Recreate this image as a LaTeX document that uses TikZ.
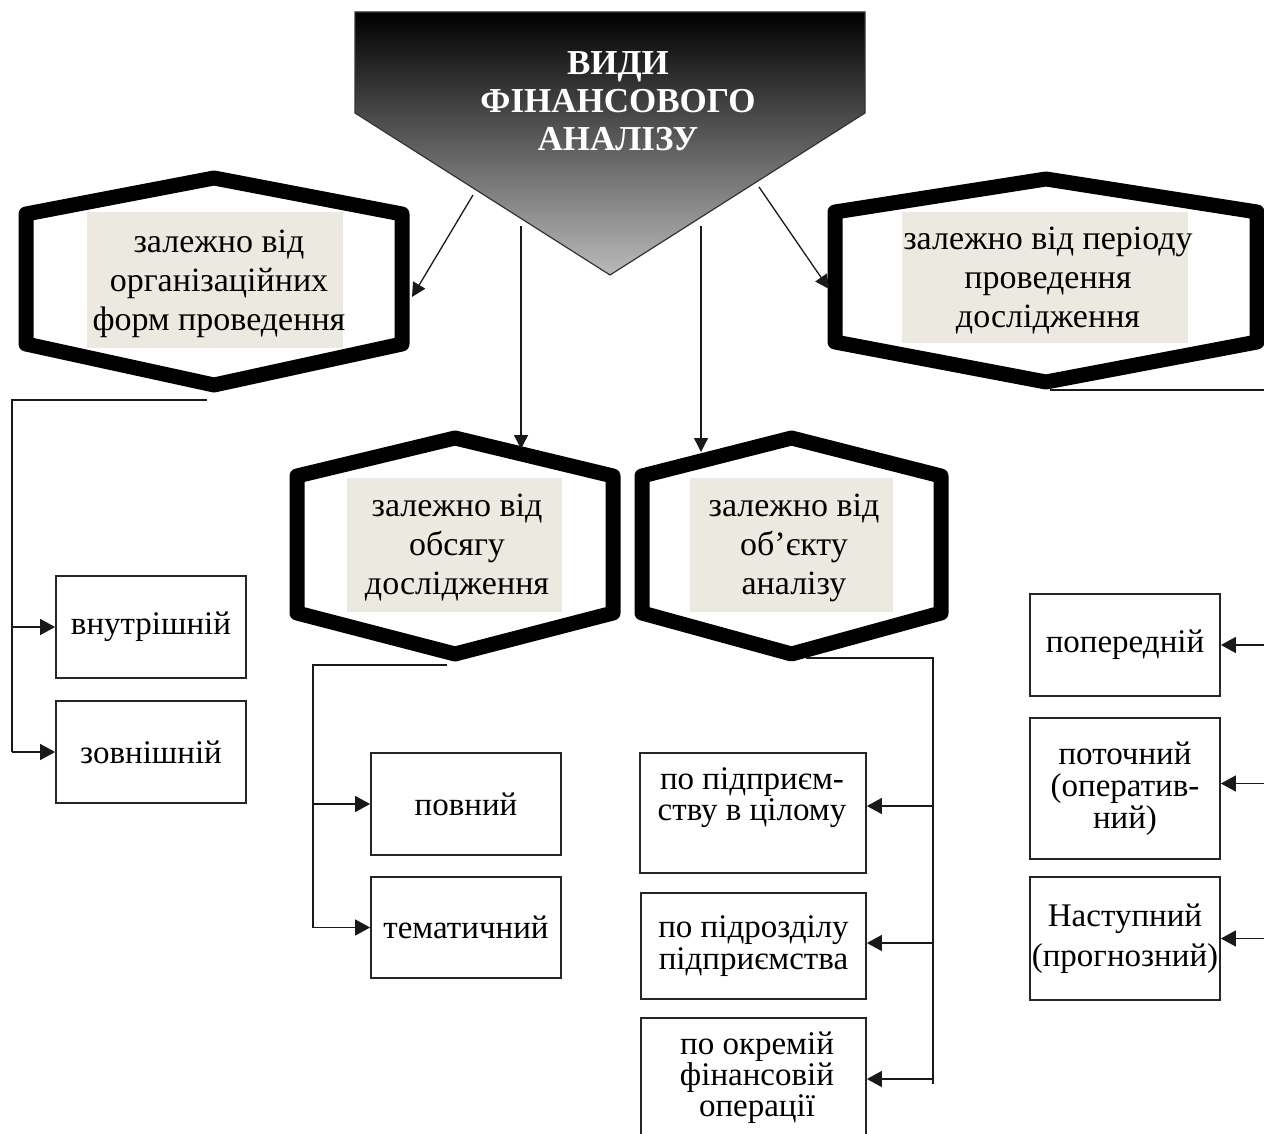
\documentclass[tikz,border=0pt]{standalone}
\usepackage{fontspec}
\setmainfont{Liberation Serif}
\usetikzlibrary{arrows.meta}
\definecolor{beige}{RGB}{236,234,224}
\begin{document}
\begin{tikzpicture}[x=1pt,y=-1pt,
  hexline/.style={line width=15pt, line join=round, draw=black},
  beigebox/.style={fill=beige, draw=none, inner sep=0pt, align=center, font=\fontsize{34}{39}\selectfont},
  hextext/.style={inner sep=0pt, align=center, font=\fontsize{34}{39}\selectfont},
  leafbox/.style={draw=black!85, line width=1.8pt, inner sep=0pt, align=center, font=\fontsize{33}{32}\selectfont},
  leaftext/.style={inner sep=0pt, align=center, font=\fontsize{33}{31}\selectfont},
  conn/.style={line width=1.6pt, draw=black!90},
  arr/.style={conn, -{Triangle[length=15pt,width=16pt]}},
  tarr/.style={line width=1.3pt, draw=black!90, -{Triangle[length=14pt,width=14pt]}},
]
\useasboundingbox (0,0) rectangle (1264,1134);

% ---- title pentagon
\shadedraw[top color=black, bottom color=black!27, draw=black!80, line width=1.2pt]
  (355,12) -- (865,12) -- (865,113) -- (610,275) -- (355,113) -- cycle;
\node[font=\bfseries\fontsize{35}{38}\selectfont, text=white, align=center, inner sep=0pt] (title) at (618,101) {ВИДИ\\ФІНАНСОВОГО\\АНАЛІЗУ};

% ---- hexagon category nodes
\node[beigebox, minimum width=256pt, minimum height=136pt] (h1) at (215,280) {};
\node[hextext] (h1t) at (219,284) {залежно від\\організаційних\\форм проведення};
\draw[hexline] (214,178) -- (402,214) -- (402,344) -- (214,385) -- (26,344) -- (26,214) -- cycle;

\node[beigebox, minimum width=286pt, minimum height=131pt] (h4) at (1045,277.5) {};
\node[hextext] (h4t) at (1048,281) {залежно від періоду\\проведення\\дослідження};
\draw[hexline] (1046,179) -- (1257,212) -- (1257,342) -- (1046,382) -- (835,342) -- (835,212) -- cycle;

\node[beigebox, minimum width=215pt, minimum height=134pt] (h2) at (454.5,545) {};
\node[hextext] (h2t) at (457,548) {залежно від\\обсягу\\дослідження};
\draw[hexline] (455,438) -- (613,476) -- (613,613) -- (455,654) -- (297,613) -- (297,476) -- cycle;

\node[beigebox, minimum width=203pt, minimum height=134pt] (h3) at (791.5,545) {};
\node[hextext] (h3t) at (794,548) {залежно від\\об’єкту\\аналізу};
\draw[hexline] (791.5,438) -- (941,476) -- (941,613) -- (791.5,654) -- (642,613) -- (642,476) -- cycle;

% ---- arrows from title
\coordinate (a1s) at (473,195);  \coordinate (a1e) at (412,297);
\coordinate (a2s) at (521,226);  \coordinate (a2e) at (521,449);
\coordinate (a3s) at (701,226);  \coordinate (a3e) at (701,452);
\coordinate (a4s) at (759,187);  \coordinate (a4e) at (829,289);
\draw[tarr] (a1s) -- (a1e);
\draw[tarr] (a2s) -- (a2e);
\draw[tarr] (a3s) -- (a3e);
\draw[tarr] (a4s) -- (a4e);

% ---- leaf boxes
\node[leafbox, minimum width=190pt, minimum height=102pt] (b1) at (151,627) {внутрішній};
\node[leafbox, minimum width=190pt, minimum height=102pt] (b2) at (151,752) {зовнішній};
\node[leafbox, minimum width=190pt, minimum height=102pt] (b3) at (466,804) {повний};
\node[leafbox, minimum width=190pt, minimum height=101pt] (b4) at (466,927.5) {тематичний};
\node[leafbox, minimum width=226pt, minimum height=120pt] (b5) at (753,813) {};
\node[leaftext] (b5t) at (752,798) {по підприєм-\\ству в цілому};
\node[leafbox, minimum width=225pt, minimum height=106pt] (b6) at (753.5,946) {по підрозділу\\підприємства};
\node[leafbox, minimum width=225pt, minimum height=122pt] (b7) at (753.5,1079) {};
\node[leaftext] (b7t) at (757,1078) {по окремій\\фінансовій\\операції};
\node[leafbox, minimum width=190pt, minimum height=102pt] (b8) at (1125,645) {попередній};
\node[leafbox, minimum width=190pt, minimum height=141pt] (b9) at (1125,788.5) {поточний\\(оператив-\\ний)};
\node[leafbox, minimum width=190pt, minimum height=123pt] (b10) at (1125,938.5) {Наступний\\[8pt](прогнозний)};

% ---- arrow ends on boxes
\coordinate (b5e) at ([yshift=7pt]b5.east);
\coordinate (b6e) at ([yshift=3pt]b6.east);
\coordinate (b9e) at ([yshift=5pt]b9.east);

% ---- trunks
\coordinate (h1b) at (207,400); \coordinate (t1) at (12,400);
\draw[conn] (h1b) -- (t1) -- (t1 |- b2.west);
\draw[arr] (t1 |- b1.west) -- (b1.west);
\draw[arr] (t1 |- b2.west) -- (b2.west);

\coordinate (h2b) at (447,665); \coordinate (t2) at (313,665);
\draw[conn] (h2b) -- (t2) -- (t2 |- b4.west);
\draw[arr] (t2 |- b3.west) -- (b3.west);
\draw[arr] (t2 |- b4.west) -- (b4.west);

\coordinate (h3b) at (806,658); \coordinate (t3) at (933,658);
\draw[conn] (h3b) -- (t3) -- (933,1084);
\draw[arr] (t3 |- b5e) -- (b5e);
\draw[arr] (t3 |- b6e) -- (b6e);
\draw[arr] (t3 |- b7.east) -- (b7.east);

\coordinate (h4b) at (1050,390); \coordinate (t4) at (1266,390);
\draw[conn] (h4b) -- (t4) -- (t4 |- b10.east);
\draw[arr] (t4 |- b8.east) -- (b8.east);
\draw[arr] (t4 |- b9e) -- (b9e);
\draw[arr] (t4 |- b10.east) -- (b10.east);
\end{tikzpicture}
\end{document}
